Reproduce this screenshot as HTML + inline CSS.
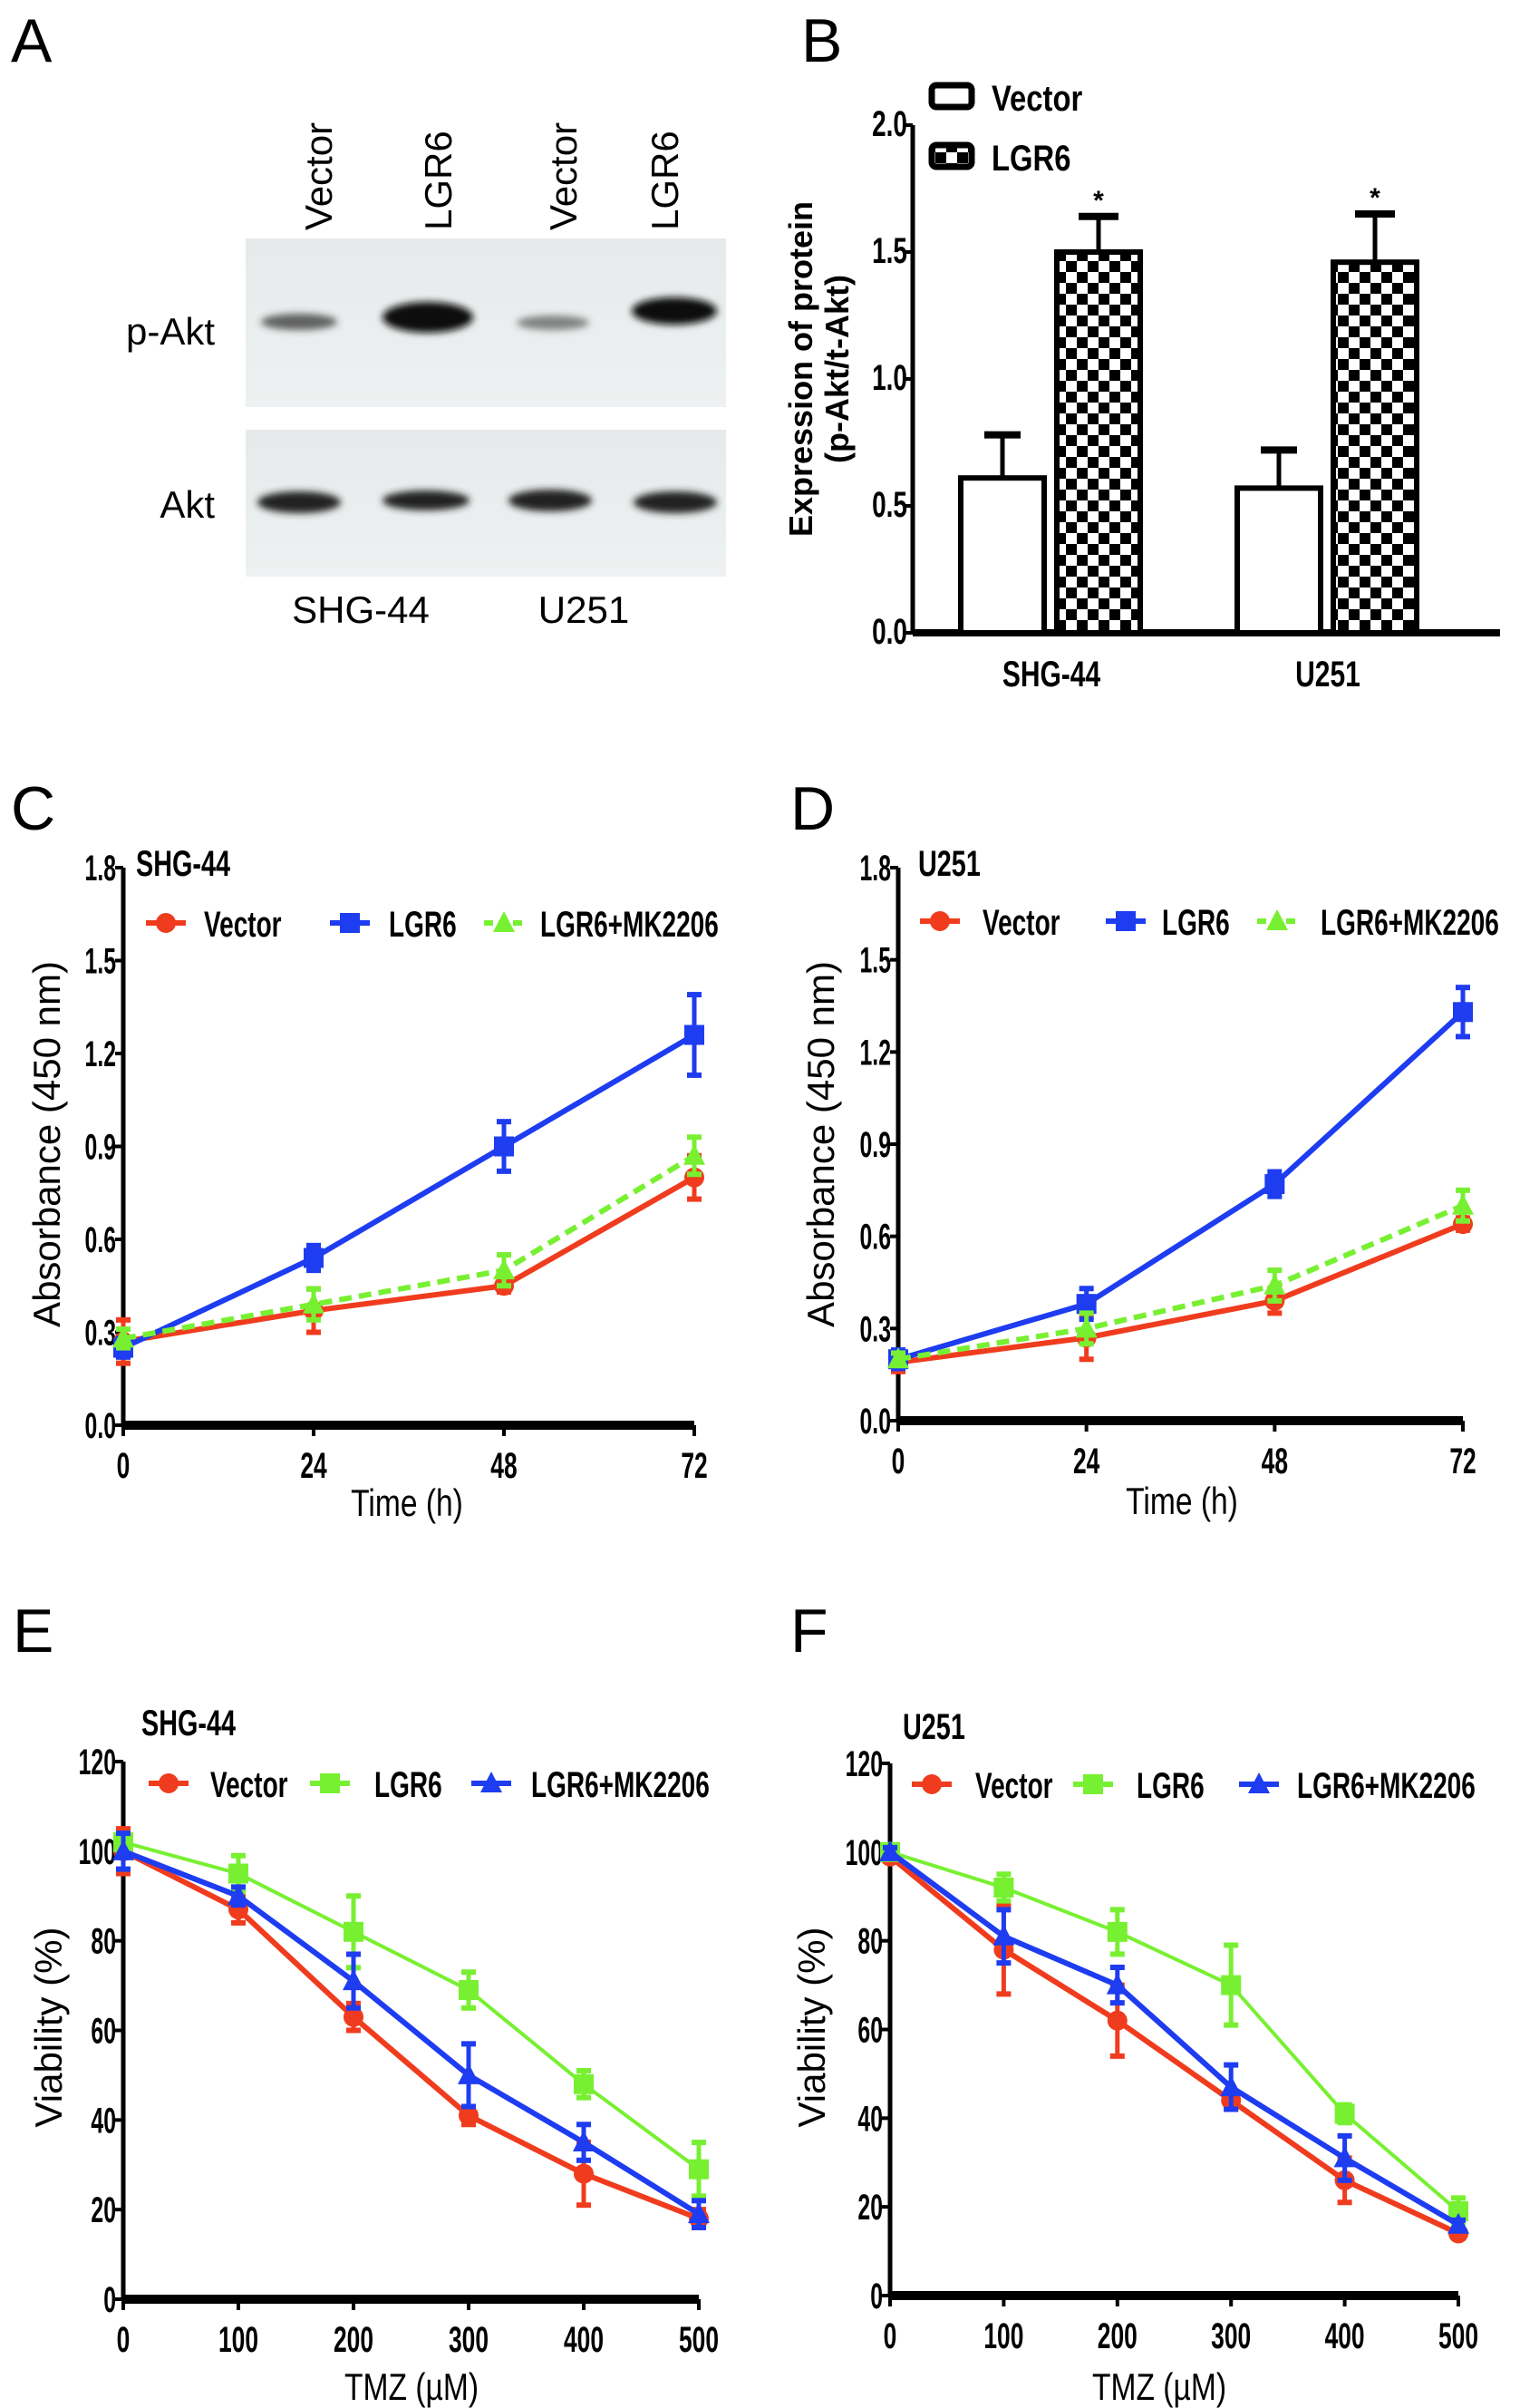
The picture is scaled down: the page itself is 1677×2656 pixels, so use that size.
<!DOCTYPE html>
<html><head><meta charset="utf-8">
<style>
html,body{margin:0;padding:0;background:#fff;}
svg{display:block;font-family:"Liberation Sans",Arial,sans-serif;}
.tick{font-weight:bold;font-size:40px;}
.lbl{font-size:42px;}
.leg{font-weight:bold;font-size:40px;}
.pl{font-size:68px;}
</style></head>
<body>
<svg id="fig" width="1677" height="2656" viewBox="0 0 1677 2656">
<defs>
<pattern id="chk" width="24" height="24" patternUnits="userSpaceOnUse">
<rect width="24" height="24" fill="#fff"/><rect width="12" height="12" fill="#000"/><rect x="12" y="12" width="12" height="12" fill="#000"/>
</pattern>
<linearGradient id="blot" x1="0" x2="0" y1="0" y2="1"><stop offset="0" stop-color="#e6eaea"/><stop offset="1" stop-color="#eef1f1"/></linearGradient>
<filter id="blur"><feGaussianBlur stdDeviation="4"/></filter>
</defs>
<text class="pl" x="12" y="68">A</text>
<text class="pl" x="884" y="68">B</text>
<text class="pl" x="12" y="915">C</text>
<text class="pl" x="872" y="915">D</text>
<text class="pl" x="14" y="1822">E</text>
<text class="pl" x="872" y="1822">F</text>

<g>
<rect x="271" y="263" width="530" height="186" fill="url(#blot)"/>
<rect x="271" y="474" width="530" height="162" fill="url(#blot)"/>
<g filter="url(#blur)">
<ellipse cx="330" cy="355" rx="42" ry="9" fill="#333" opacity="0.75"/>
<ellipse cx="472" cy="350" rx="50" ry="17" fill="#111"/>
<ellipse cx="610" cy="356" rx="40" ry="8" fill="#555" opacity="0.7"/>
<ellipse cx="744" cy="343" rx="47" ry="15" fill="#111"/>
<ellipse cx="330" cy="554" rx="46" ry="12" fill="#222"/>
<ellipse cx="470" cy="552" rx="48" ry="11" fill="#222"/>
<ellipse cx="607" cy="552" rx="46" ry="12" fill="#222"/>
<ellipse cx="745" cy="554" rx="46" ry="12" fill="#222"/>
</g>
<text class="lbl" x="237" y="380" text-anchor="end" font-size="48">p-Akt</text>
<text class="lbl" x="237" y="571" text-anchor="end" font-size="48">Akt</text>
<text class="lbl" transform="translate(366,254) rotate(-90)" font-size="50">Vector</text>
<text class="lbl" transform="translate(498,254) rotate(-90)" font-size="50">LGR6</text>
<text class="lbl" transform="translate(636,254) rotate(-90)" font-size="50">Vector</text>
<text class="lbl" transform="translate(748,254) rotate(-90)" font-size="50">LGR6</text>
<text class="lbl" x="398" y="687" text-anchor="middle" font-size="50">SHG-44</text>
<text class="lbl" x="644" y="687" text-anchor="middle" font-size="50">U251</text>
</g>
<g id="gB"></g>
<g id="gC"></g>
<g id="gD"></g>
<g id="gE"></g>
<g id="gF"></g>
</svg>
<script>
const bCategories = ["SHG-44", "U251"];
const bVector = [0.61, 0.57];
const bVectorErr = [0.17, 0.15];
const bLgr6 = [1.50, 1.46];
const bLgr6Err = [0.14, 0.19];
const bTicks = ["0.0","0.5","1.0","1.5","2.0"];
const cTimes = [0, 24, 48, 72];
const cVector = [0.27, 0.37, 0.45, 0.80];
const cVectorErr = [0.07, 0.07, 0.02, 0.07];
const cLgr6 = [0.25, 0.54, 0.90, 1.26];
const cLgr6Err = [0.03, 0.04, 0.08, 0.13];
const cMk = [0.28, 0.39, 0.50, 0.87];
const cMkErr = [0.03, 0.05, 0.05, 0.06];
const dVector = [0.19, 0.27, 0.39, 0.64];
const dVectorErr = [0.03, 0.07, 0.04, 0.02];
const dLgr6 = [0.20, 0.38, 0.77, 1.33];
const dLgr6Err = [0.03, 0.05, 0.04, 0.08];
const dMk = [0.20, 0.30, 0.44, 0.70];
const dMkErr = [0.02, 0.05, 0.05, 0.05];
const absTicks = ["0.0","0.3","0.6","0.9","1.2","1.5","1.8"];
const tmzDoses = [0, 100, 200, 300, 400, 500];
const eVector = [100, 87, 63, 41, 28, 18];
const eVectorErr = [5, 3, 3, 2, 7, 2];
const eLgr6 = [102, 95, 82, 69, 48, 29];
const eLgr6Err = [2, 4, 8, 4, 3, 6];
const eMk = [100, 90, 71, 50, 35, 19];
const eMkErr = [4, 2, 6, 7, 4, 3];
const fVector = [99, 78, 62, 44, 26, 14];
const fVectorErr = [1, 10, 8, 2, 5, 1];
const fLgr6 = [100, 92, 82, 70, 41, 19];
const fLgr6Err = [1, 3, 5, 9, 2, 3];
const fMk = [100, 81, 70, 47, 31, 16];
const fMkErr = [1, 6, 4, 5, 5, 1];
const vTicks = ["0","20","40","60","80","100","120"];

const NS = "http://www.w3.org/2000/svg";
function mk(parent, tag, attrs, text){
  const e = document.createElementNS(NS, tag);
  for (const k in attrs) e.setAttribute(k, attrs[k]);
  if (text !== undefined) e.textContent = text;
  parent.appendChild(e);
  return e;
}
function sx(x, s){ return `translate(${x},0) scale(${s},1) translate(${-x},0)`; }

(function(){
  const g = document.getElementById('gB');
  const x0 = 1007, xEnd = 1655, y0 = 698, yTop = 138, ymax = 2.0;
  const ys = v => y0 - v / ymax * (y0 - yTop);
  let a = mk(g,'line',{x1:x0,y1:y0,x2:x0,y2:yTop,stroke:'#000','stroke-width':5});
   
  a = mk(g,'line',{x1:x0,y1:y0,x2:xEnd,y2:y0,stroke:'#000','stroke-width':8});
   
  bTicks.forEach(t => {
    const y = ys(parseFloat(t));
    mk(g,'line',{x1:x0-8,y1:y,x2:x0,y2:y,stroke:'#000','stroke-width':4});
    const tx = mk(g,'text',{x:x0-6,y:y+12,'text-anchor':'end',class:'tick','font-size':38,transform:sx(x0-6,0.7)}, t);
     
  });
  const groupCenters = [1160, 1465];
  const bw = 92;
  bCategories.forEach((c,i) => {
    const cx = groupCenters[i];
    const xv = cx - bw - 8, xl = cx + 6;
    let r = mk(g,'rect',{x:xv,y:ys(bVector[i]),width:bw,height:y0-ys(bVector[i]),fill:'#fff',stroke:'#000','stroke-width':6});
     
    mk(g,'line',{x1:xv+bw/2,y1:ys(bVector[i]),x2:xv+bw/2,y2:ys(bVector[i]+bVectorErr[i]),stroke:'#000','stroke-width':5});
    mk(g,'line',{x1:xv+bw/2-20,y1:ys(bVector[i]+bVectorErr[i]),x2:xv+bw/2+20,y2:ys(bVector[i]+bVectorErr[i]),stroke:'#000','stroke-width':8});
    r = mk(g,'rect',{x:xl,y:ys(bLgr6[i]),width:bw,height:y0-ys(bLgr6[i]),fill:'url(#chk)',stroke:'#000','stroke-width':6});
     
    mk(g,'line',{x1:xl+bw/2,y1:ys(bLgr6[i]),x2:xl+bw/2,y2:ys(bLgr6[i]+bLgr6Err[i]),stroke:'#000','stroke-width':5});
    mk(g,'line',{x1:xl+bw/2-22,y1:ys(bLgr6[i]+bLgr6Err[i]),x2:xl+bw/2+22,y2:ys(bLgr6[i]+bLgr6Err[i]),stroke:'#000','stroke-width':8});
    const st = mk(g,'text',{x:xl+bw/2,y:ys(bLgr6[i]+bLgr6Err[i])-8,'text-anchor':'middle','font-size':30,'font-weight':'bold'},'*');
     
    const cl = mk(g,'text',{x:cx,y:757,'text-anchor':'middle',class:'tick','font-size':36,transform:sx(cx,0.75)},c);
     
  });
  let yt = mk(g,'text',{x:0,y:0,'text-anchor':'middle','font-size':36,'font-weight':'bold',transform:'translate(896,407) rotate(-90)'},'Expression of protein');
   
  yt = mk(g,'text',{x:0,y:0,'text-anchor':'middle','font-size':36,'font-weight':'bold',transform:'translate(936,407) rotate(-90)'},'(p-Akt/t-Akt)');
   
  let lb = mk(g,'rect',{x:1028,y:94,width:44,height:24,rx:5,fill:'#fff',stroke:'#000','stroke-width':7});
   
  lb = mk(g,'rect',{x:1028,y:160,width:44,height:24,rx:5,fill:'url(#chk)',stroke:'#000','stroke-width':7});
   
  let lt = mk(g,'text',{x:1094,y:122,class:'leg','font-size':42,transform:sx(1094,0.82)},'Vector');
   
  lt = mk(g,'text',{x:1094,y:188,class:'leg','font-size':42,transform:sx(1094,0.82)},'LGR6');
   
})();

function marker(g, shape, x, y, color){
  let m;
  if (shape === 'circle') m = mk(g,'circle',{cx:x,cy:y,r:11,fill:color});
  else if (shape === 'square') m = mk(g,'rect',{x:x-11,y:y-11,width:22,height:22,fill:color});
  else m = mk(g,'polygon',{points:`${x},${y-13} ${x+12},${y+10} ${x-12},${y+10}`,fill:color});
  return m;
}

function lineChart(id, cfg){
  const g = document.getElementById(id);
  const {x0,x1,y0,y1,xvals,xmax,ymax,ticks,series,sub,subPos,ytitle,ytx,xtitle,xtx,legY,legs} = cfg;
  const xs = v => x0 + v / xmax * (x1 - x0);
  const ys = v => y0 - v / ymax * (y0 - y1);
  let a = mk(g,'line',{x1:x0,y1:y0,x2:x0,y2:y1,stroke:'#000','stroke-width':5});
   
  a = mk(g,'line',{x1:x0,y1:y0,x2:x1,y2:y0,stroke:'#000','stroke-width':10});
   
  ticks.forEach(t => {
    const y = ys(parseFloat(t));
    mk(g,'line',{x1:x0-9,y1:y,x2:x0,y2:y,stroke:'#000','stroke-width':4});
    const tx = mk(g,'text',{x:x0-8,y:y+14,'text-anchor':'end',class:'tick',transform:sx(x0-8,0.62)},t);
     
  });
  xvals.forEach(v => {
    const x = xs(v);
    mk(g,'line',{x1:x,y1:y0,x2:x,y2:y0+12,stroke:'#000','stroke-width':4});
    const tx = mk(g,'text',{x:x,y:y0+58,'text-anchor':'middle',class:'tick','font-size':46,transform:sx(x,0.66)},String(v));
     
  });
  series.forEach(s => {
    const sg = mk(g,'g',{});
    
    
    const pts = s.vals.map((v,i) => `${xs(xvals[i])},${ys(v)}`).join(' ');
    const attrs = {points:pts,fill:'none',stroke:s.color,'stroke-width':s.w||6,'stroke-linejoin':'round'};
    if (s.dash) attrs['stroke-dasharray'] = '14,8';
    mk(sg,'polyline',attrs);
    s.vals.forEach((v,i) => {
      const x = xs(xvals[i]), e = s.err[i];
      mk(sg,'line',{x1:x,y1:ys(v-e),x2:x,y2:ys(v+e),stroke:s.color,'stroke-width':5});
      mk(sg,'line',{x1:x-8,y1:ys(v+e),x2:x+8,y2:ys(v+e),stroke:s.color,'stroke-width':6});
      mk(sg,'line',{x1:x-8,y1:ys(v-e),x2:x+8,y2:ys(v-e),stroke:s.color,'stroke-width':6});
      const m = marker(sg, s.shape, x, ys(v), s.color);
      
      
    });
  });
  const st = mk(g,'text',{x:subPos[0],y:subPos[1],class:'tick','font-size':38,transform:sx(subPos[0],0.72)},sub);
   
  const yt = mk(g,'text',{x:0,y:0,'text-anchor':'middle',class:'lbl','font-size':44,transform:`translate(${ytx[0]},${ytx[1]}) rotate(-90)`},ytitle);
   
  const xt = mk(g,'text',{x:xtx[0],y:xtx[1],'text-anchor':'middle',class:'lbl','font-size':46,transform:sx(xtx[0],0.8)},xtitle);
   
  legs.forEach((L,i) => {
    const s = series[i];
    const lg = mk(g,'g',{});
    
    
    const la = {x1:L[0]-22,y1:legY,x2:L[0]+22,y2:legY,stroke:s.color,'stroke-width':6};
    if (s.dash) la['stroke-dasharray']='10,6';
    mk(lg,'line',la);
    marker(lg, s.shape, L[0], legY, s.color);
    mk(lg,'text',{x:L[1],y:legY+15,class:'leg','font-size':44,transform:sx(L[1],0.7)},s.label);
  });
}

const RED='#f03c1e', BLUE='#1e3cf0', GREEN='#78f032';
lineChart('gC',{x0:136,x1:766,y0:1572,y1:957,xvals:cTimes,xmax:72,ymax:1.8,ticks:absTicks,
  series:[
   {key:'vector',label:'Vector',vals:cVector,err:cVectorErr,color:RED,shape:'circle'},
   {key:'lgr6',label:'LGR6',vals:cLgr6,err:cLgr6Err,color:BLUE,shape:'square'},
   {key:'lgr6-mk2206',label:'LGR6+MK2206',vals:cMk,err:cMkErr,color:GREEN,shape:'tri',dash:true}],
  sub:'SHG-44',subPos:[150,966],ytitle:'Absorbance (450 nm)',ytx:[66,1262],xtitle:'Time (h)',xtx:[449,1672],
  legY:1018,legs:[[183,225],[386,429],[556,596]]});
lineChart('gD',{x0:991,x1:1614,y0:1567,y1:957,xvals:cTimes,xmax:72,ymax:1.8,ticks:absTicks,
  series:[
   {key:'vector',label:'Vector',vals:dVector,err:dVectorErr,color:RED,shape:'circle'},
   {key:'lgr6',label:'LGR6',vals:dLgr6,err:dLgr6Err,color:BLUE,shape:'square'},
   {key:'lgr6-mk2206',label:'LGR6+MK2206',vals:dMk,err:dMkErr,color:GREEN,shape:'tri',dash:true}],
  sub:'U251',subPos:[1013,966],ytitle:'Absorbance (450 nm)',ytx:[920,1262],xtitle:'Time (h)',xtx:[1304,1670],
  legY:1016,legs:[[1037,1084],[1242,1282],[1409,1457]]});
lineChart('gE',{x0:136,x1:771,y0:2536,y1:1943,xvals:tmzDoses,xmax:500,ymax:120,ticks:vTicks,
  series:[
   {key:'vector',label:'Vector',vals:eVector,err:eVectorErr,color:RED,shape:'circle'},
   {key:'lgr6',label:'LGR6',vals:eLgr6,err:eLgr6Err,color:GREEN,shape:'square',w:4},
   {key:'lgr6-mk2206',label:'LGR6+MK2206',vals:eMk,err:eMkErr,color:BLUE,shape:'tri'}],
  sub:'SHG-44',subPos:[156,1914],ytitle:'Viability (%)',ytx:[68,2236],xtitle:'TMZ (\u00b5M)',xtx:[454,2647],
  legY:1967,legs:[[186,232],[364,413],[542,586]]});
lineChart('gF',{x0:982,x1:1609,y0:2532,y1:1945,xvals:tmzDoses,xmax:500,ymax:120,ticks:vTicks,
  series:[
   {key:'vector',label:'Vector',vals:fVector,err:fVectorErr,color:RED,shape:'circle'},
   {key:'lgr6',label:'LGR6',vals:fLgr6,err:fLgr6Err,color:GREEN,shape:'square',w:4},
   {key:'lgr6-mk2206',label:'LGR6+MK2206',vals:fMk,err:fMkErr,color:BLUE,shape:'tri'}],
  sub:'U251',subPos:[996,1918],ytitle:'Viability (%)',ytx:[910,2236],xtitle:'TMZ (\u00b5M)',xtx:[1279,2647],
  legY:1968,legs:[[1028,1076],[1206,1254],[1389,1431]]});
</script>
</body></html>
